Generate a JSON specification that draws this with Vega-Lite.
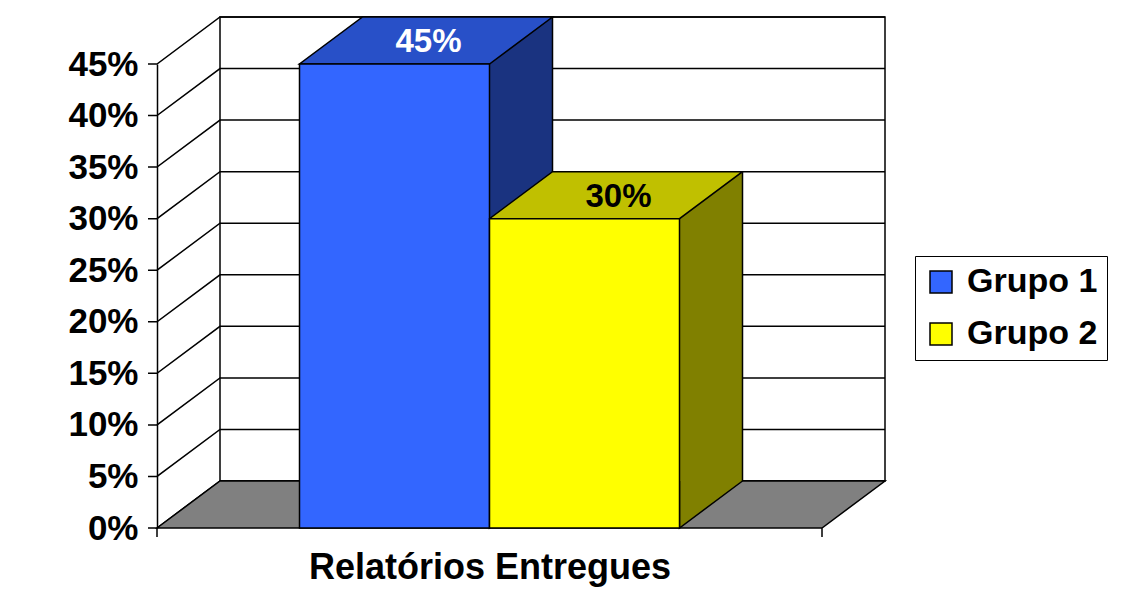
{
  "$schema": "https://vega.github.io/schema/vega-lite/v6.json",
  "width": 665,
  "height": 464,
  "autosize": {"type": "none"},
  "padding": {"left": 157, "top": 64, "right": 323, "bottom": 62},
  "background": "white",
  "config": {
    "view": {"stroke": null},
    "font": "Liberation Sans",
    "axisY": {"values": [0, 0.05, 0.1, 0.15, 0.2, 0.25, 0.3, 0.35, 0.4, 0.45], "format": ".0%", "labelFontSize": 35, "labelFontWeight": "bold", "labelColor": "black", "ticks": false, "tickSize": 0, "labelPadding": 19, "domain": true, "domainColor": "black", "domainWidth": 1.5, "grid": false, "labelFlush": false, "labelOverlap": false},
    "axisX": {"labels": false, "ticks": false, "domain": false, "grid": false, "titleFontSize": 36, "titleFontWeight": "bold", "titleColor": "black", "titlePadding": 22}
  },
  "datasets": {
    "grupos": [
      {"grupo": "Grupo 1", "valor": 0.45},
      {"grupo": "Grupo 2", "valor": 0.30}
    ],
    "marcas": [{"v": 0}, {"v": 0.05}, {"v": 0.1}, {"v": 0.15}, {"v": 0.2}, {"v": 0.25}, {"v": 0.3}, {"v": 0.35}, {"v": 0.4}, {"v": 0.45}],
    "plano": [{"parte": "fundo"}]
  },
  "layer": [
    {
      "layer": [
        {
          "data": {"name": "plano"},
          "mark": {"type": "rect", "fill": "white", "stroke": "black", "strokeWidth": 1.5, "xOffset": 63, "x2Offset": 63, "yOffset": -47, "y2Offset": -47},
          "encoding": {
            "x": {"datum": 0, "type": "quantitative", "scale": {"domain": [0, 1]}, "axis": null},
            "x2": {"datum": 1},
            "y": {"datum": 0.45, "type": "quantitative", "scale": {"domain": [0, 0.45], "nice": false}, "title": null},
            "y2": {"datum": 0}
          }
        },
        {
          "data": {"name": "marcas"},
          "mark": {"type": "point", "shape": "M-9,0L0,0L63,-47L728,-47", "size": 4, "filled": false, "stroke": "black", "strokeWidth": 1.5, "opacity": 1},
          "encoding": {
            "x": {"datum": 0, "type": "quantitative", "axis": null},
            "y": {"field": "v", "type": "quantitative", "title": null}
          }
        },
        {
          "data": {"name": "plano"},
          "mark": {"type": "point", "shape": "M0,0L63,-47L728,-47L665,0Z M0,0L0,9 M665,0L665,9", "size": 4, "filled": true, "fill": "#808080", "stroke": "black", "strokeWidth": 1.5, "opacity": 1},
          "encoding": {
            "x": {"datum": 0, "type": "quantitative", "axis": null},
            "y": {"datum": 0, "type": "quantitative", "title": null}
          }
        }
      ]
    },
    {
      "data": {"name": "grupos"},
      "layer": [
        {
          "mark": {"type": "bar", "width": 63, "xOffset": 126.5, "yOffset": -47, "y2Offset": -47, "strokeWidth": 0},
          "encoding": {
            "x": {"field": "grupo", "type": "nominal", "scale": {"type": "band", "paddingInner": 0, "paddingOuter": 0.75}, "title": "Relatórios Entregues"},
            "y": {"field": "valor", "type": "quantitative", "title": null},
            "y2": {"datum": 0},
            "fill": {"condition": {"test": "datum.grupo === 'Grupo 1'", "value": "#1A3380"}, "value": "#808000"}
          }
        },
        {
          "mark": {"type": "rule", "xOffset": 158, "yOffset": -47, "y2Offset": -47, "stroke": "black", "strokeWidth": 1.5},
          "encoding": {
            "x": {"field": "grupo", "type": "nominal", "title": "Relatórios Entregues"},
            "y": {"field": "valor", "type": "quantitative", "title": null},
            "y2": {"datum": 0}
          }
        },
        {
          "mark": {"type": "point", "shape": "M95,-47L95,0L158,-47", "size": 4, "filled": true, "stroke": "black", "strokeWidth": 1.5, "opacity": 1},
          "encoding": {
            "x": {"field": "grupo", "type": "nominal", "title": "Relatórios Entregues"},
            "y": {"datum": 0, "type": "quantitative", "title": null},
            "fill": {"condition": {"test": "datum.grupo === 'Grupo 1'", "value": "#1A3380"}, "value": "#808000"}
          }
        },
        {
          "mark": {"type": "point", "shape": "M-95,0L95,0L158,-47L-32,-47Z", "size": 4, "filled": true, "stroke": "black", "strokeWidth": 1.5, "opacity": 1},
          "encoding": {
            "x": {"field": "grupo", "type": "nominal", "title": "Relatórios Entregues"},
            "y": {"field": "valor", "type": "quantitative", "title": null},
            "fill": {"condition": {"test": "datum.grupo === 'Grupo 1'", "value": "#2850C8"}, "value": "#C0C000"}
          }
        },
        {
          "mark": {"type": "bar", "stroke": "black", "strokeWidth": 1.5},
          "encoding": {
            "x": {"field": "grupo", "type": "nominal", "title": "Relatórios Entregues"},
            "y": {"field": "valor", "type": "quantitative", "title": null},
            "fill": {"field": "grupo", "type": "nominal", "scale": {"domain": ["Grupo 1", "Grupo 2"], "range": ["#3366FF", "#FFFF00"]}, "legend": {"orient": "none", "legendX": 758, "legendY": 192, "title": null, "labelFontSize": 34, "labelFontWeight": "bold", "labelColor": "black", "symbolType": "square", "symbolSize": 484, "symbolStrokeColor": "black", "symbolStrokeWidth": 1.5, "symbolOpacity": 1, "strokeColor": "black", "fillColor": "white", "padding": 9, "rowPadding": 18, "labelOffset": 9, "labelLimit": 0}}
          }
        },
        {
          "mark": {"type": "text", "dx": 34, "dy": -22, "align": "center", "baseline": "middle", "fontSize": 33, "fontWeight": "bold"},
          "encoding": {
            "x": {"field": "grupo", "type": "nominal", "title": "Relatórios Entregues"},
            "y": {"field": "valor", "type": "quantitative", "title": null},
            "text": {"field": "valor", "type": "quantitative", "format": ".0%"},
            "fill": {"condition": {"test": "datum.grupo === 'Grupo 1'", "value": "white"}, "value": "black"}
          }
        }
      ]
    }
  ],
  "resolve": {"scale": {"x": "independent"}, "axis": {"x": "independent"}}
}
